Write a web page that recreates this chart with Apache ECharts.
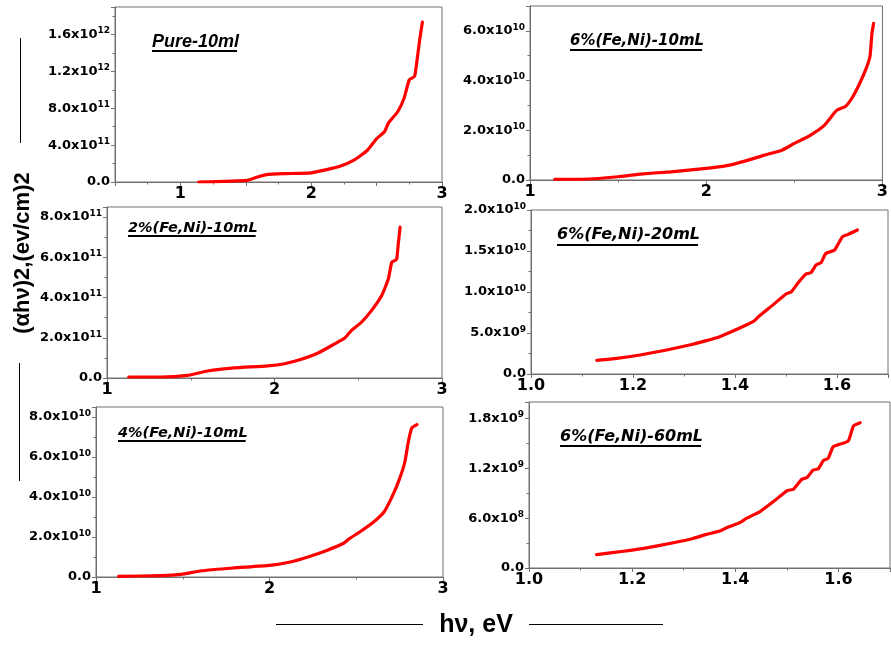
<!DOCTYPE html>
<html><head><meta charset="utf-8">
<script src="https://cdn.jsdelivr.net/npm/echarts@6/dist/echarts.min.js"></script>
<style>html,body{margin:0;padding:0;background:#fff}#c{width:891px;height:645px}</style>
</head><body><div id="c"></div>
<script>
// ---- data (photon energy hν in eV, (αhν)^2) ----
const pureX = [1.14,1.51,1.59,1.66,1.79,2.0,2.12,2.22,2.33,2.43,2.5,2.56,2.59,2.66,2.71,2.75,2.79,2.81,2.83,2.85];
const pureY = [0.0e11,0.18e11,0.55e11,0.8e11,0.9e11,1.0e11,1.35e11,1.7e11,2.4e11,3.45e11,4.7e11,5.45e11,6.4e11,7.6e11,9.1e11,11.1e11,11.45e11,13.3e11,15.5e11,17.35e11];

const fe6_10X = [1.14,1.33,1.5,1.61,1.8,2.0,2.11,2.22,2.33,2.43,2.5,2.59,2.67,2.74,2.79,2.83,2.87,2.91,2.93,2.94,2.95];
const fe6_10Y = [0.03e10,0.04e10,0.13e10,0.23e10,0.33e10,0.47e10,0.57e10,0.76e10,1.0e10,1.2e10,1.47e10,1.8e10,2.2e10,2.8e10,2.96e10,3.33e10,3.87e10,4.53e10,5.0e10,5.87e10,6.3e10];

const fe2_10X = [1.13,1.32,1.48,1.6,1.76,1.96,2.06,2.16,2.26,2.36,2.42,2.46,2.52,2.58,2.64,2.68,2.7,2.72,2.73,2.74,2.75];
const fe2_10Y = [0.05e11,0.05e11,0.13e11,0.35e11,0.5e11,0.6e11,0.71e11,0.93e11,1.24e11,1.7e11,1.99e11,2.37e11,2.78e11,3.36e11,4.1e11,4.93e11,5.76e11,5.84e11,5.93e11,6.75e11,7.5e11];

const fe6_20X = [1.129,1.168,1.214,1.266,1.311,1.344,1.37,1.396,1.422,1.438,1.448,1.474,1.5,1.51,1.523,1.539,1.549,1.559,1.569,1.578,1.595,1.601,1.611,1.621,1.64];
const fe6_20Y = [1.67e9,1.91e9,2.32e9,2.93e9,3.54e9,4.07e9,4.55e9,5.24e9,5.98e9,6.5e9,7.1e9,8.4e9,9.76e9,10.0e9,11.06e9,12.2e9,12.36e9,13.3e9,13.6e9,14.7e9,15.1e9,15.7e9,16.75e9,17.0e9,17.56e9];

const fe4_10X = [1.13,1.37,1.49,1.6,1.79,2.0,2.12,2.23,2.33,2.43,2.46,2.52,2.6,2.66,2.71,2.75,2.78,2.8,2.82,2.85];
const fe4_10Y = [0.03e10,0.07e10,0.13e10,0.3e10,0.45e10,0.58e10,0.75e10,1.03e10,1.33e10,1.7e10,1.92e10,2.25e10,2.75e10,3.25e10,4.08e10,4.92e10,5.75e10,6.75e10,7.45e10,7.62e10];

const fe6_60X = [1.131,1.183,1.228,1.28,1.318,1.344,1.37,1.383,1.409,1.422,1.448,1.474,1.5,1.513,1.529,1.539,1.551,1.561,1.571,1.58,1.59,1.619,1.629,1.642];
const fe6_60Y = [1.62e8,2.02e8,2.43e8,3.04e8,3.56e8,4.05e8,4.45e8,4.86e8,5.47e8,6.0e8,6.8e8,8.0e8,9.3e8,9.5e8,10.7e8,10.9e8,11.8e8,11.95e8,12.96e8,13.2e8,14.6e8,15.3e8,17.1e8,17.5e8];

const sampleNames = ['Pure-10ml','6%(Fe,Ni)-10mL','2%(Fe,Ni)-10mL','6%(Fe,Ni)-20mL','4%(Fe,Ni)-10mL','6%(Fe,Ni)-60mL'];
const yTitle = '(αhν)2,(ev/cm)2';
const xTitle = 'hν, eV';

// ---- layout ----
const panels = [
  {grid:{left:115,top:7,width:327,height:175}, x:[0.5,3,0.5,0], y:[0,1.9e12,4e11], data:[pureX,pureY], label:{x:152,cy:42.5,ul:51,font:'italic bold 18px "Liberation Sans"'}},
  {grid:{left:530,top:6,width:357,height:174}, x:[1,3,1,0], y:[0,7e10,2e10], data:[fe6_10X,fe6_10Y], label:{x:570,cy:41,ul:50,font:'italic bold 15px "DejaVu Sans"'}},
  {grid:{left:107,top:207,width:335,height:171}, x:[1,3,1,0], y:[0,8.5e11,2e11], data:[fe2_10X,fe2_10Y], label:{x:128,cy:228,ul:236,font:'italic bold 14.5px "DejaVu Sans"'}},
  {grid:{left:531,top:210,width:357,height:164}, x:[1,1.7,0.2,1], y:[0,2e10,5e9], data:[fe6_20X,fe6_20Y], label:{x:557,cy:235,ul:245,font:'italic bold 16px "DejaVu Sans"'}},
  {grid:{left:96,top:407,width:347,height:170}, x:[1,3,1,0], y:[0,8.5e10,2e10], data:[fe4_10X,fe4_10Y], label:{x:118,cy:433,ul:441,font:'italic bold 14.5px "DejaVu Sans"'}},
  {grid:{left:529,top:402,width:361,height:166}, x:[1,1.7,0.2,1], y:[0,2e9,6e8], data:[fe6_60X,fe6_60Y], label:{x:560,cy:437,ul:446,font:'italic bold 16px "DejaVu Sans"'}}
];

const AX = '#707070';
function sci(v){
  if (Math.abs(v) < 1e-30) return '{b|0.0}';
  const e = Math.floor(Math.log10(v) + 1e-9);
  const m = v / Math.pow(10, e);
  return '{b|' + m.toFixed(1) + 'x10}{s|' + e + '}';
}
const measure = (function(){const c=document.createElement('canvas').getContext('2d');return (t,f)=>{c.font=f;return c.measureText(t).width;};})();

const grids=[], xAxes=[], yAxes=[], series=[], graphics=[];
panels.forEach((p,i)=>{
  grids.push(Object.assign({show:true,borderColor:AX,borderWidth:1,backgroundColor:'transparent',containLabel:false}, p.grid));
  const dec = p.x[3];
  xAxes.push({type:'value',gridIndex:i,min:p.x[0],max:p.x[1],interval:p.x[2],
    axisLine:{show:true,onZero:false,lineStyle:{color:AX,width:1}},
    axisTick:{show:true,inside:false,length:4,lineStyle:{color:AX}},
    minorTick:{show:true,splitNumber:2,length:2.5,lineStyle:{color:AX}},
    splitLine:{show:false},
    axisLabel:{margin:4,color:'#000',fontFamily:'DejaVu Sans',fontWeight:'bold',fontSize:16,showMaxLabel:dec===1?false:true,
      formatter:v=>{ if(dec===0){ return Math.abs(v-Math.round(v))<1e-6 ? String(Math.round(v)) : ''; } return v.toFixed(1);} }
  });
  yAxes.push({type:'value',gridIndex:i,min:p.y[0],max:p.y[1],interval:p.y[2],
    axisLine:{show:true,lineStyle:{color:AX,width:1}},
    axisTick:{show:true,inside:false,length:4,lineStyle:{color:AX}},
    minorTick:{show:true,splitNumber:2,length:2.5,lineStyle:{color:AX}},
    splitLine:{show:false},
    axisLabel:{margin:5,showMaxLabel:(Math.abs(p.y[1]/p.y[2]-Math.round(p.y[1]/p.y[2]))<1e-6),
      formatter:sci,
      rich:{b:{fontFamily:'DejaVu Sans',fontWeight:'bold',fontSize:13,color:'#000',lineHeight:16},
            s:{fontFamily:'DejaVu Sans',fontWeight:'bold',fontSize:9,color:'#000',verticalAlign:'top',lineHeight:16}}}
  });
  series.push({type:'line',xAxisIndex:i,yAxisIndex:i,showSymbol:false,symbol:'none',
    data:p.data[0].map((x,k)=>[x,p.data[1][k]]),
    lineStyle:{color:'#ff0000',width:3.2,join:'round',cap:'round'},itemStyle:{color:'#ff0000'},
    smooth:0.15,animation:false});
  const L=p.label, w=measure(sampleNames[i],L.font);
  graphics.push({type:'text',x:L.x,y:L.cy,style:{text:sampleNames[i],font:L.font,fill:'#000',textAlign:'left',textVerticalAlign:'middle'}});
  graphics.push({type:'line',shape:{x1:L.x,y1:L.ul,x2:L.x+w-2,y2:L.ul},style:{stroke:'#000',lineWidth:1.8}});
});

// axis titles and decorative side lines
graphics.push({type:'line',shape:{x1:20.5,y1:38,x2:20.5,y2:143},style:{stroke:'#000',lineWidth:1}});
graphics.push({type:'line',shape:{x1:19.5,y1:363,x2:19.5,y2:481},style:{stroke:'#000',lineWidth:1}});
graphics.push({type:'text',x:23,y:253,rotation:Math.PI/2,style:{text:yTitle,font:'bold 22px "Liberation Sans"',fill:'#000',textAlign:'center',textVerticalAlign:'middle'}});
graphics.push({type:'line',shape:{x1:276,y1:624.5,x2:423,y2:624.5},style:{stroke:'#000',lineWidth:1}});
graphics.push({type:'line',shape:{x1:529,y1:624.5,x2:663,y2:624.5},style:{stroke:'#000',lineWidth:1}});
graphics.push({type:'text',x:476,y:625,style:{text:xTitle,font:'bold 25px "Liberation Sans"',fill:'#000',textAlign:'center',textVerticalAlign:'middle'}});

const chart = echarts.init(document.getElementById('c'),null,{renderer:'canvas'});
chart.setOption({animation:false,backgroundColor:'#fff',grid:grids,xAxis:xAxes,yAxis:yAxes,series:series,graphic:graphics});
</script></body></html>
